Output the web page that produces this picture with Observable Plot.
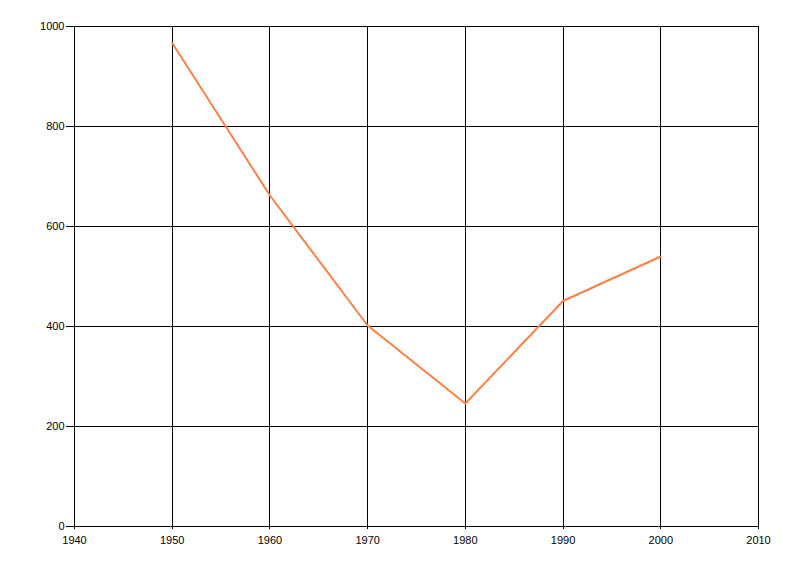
<!DOCTYPE html>
<html>
<head>
<meta charset="utf-8">
<script src="https://cdn.jsdelivr.net/npm/d3@7"></script>
<script src="https://cdn.jsdelivr.net/npm/@observablehq/plot@0.6"></script>
<style>
  html, body { margin: 0; padding: 0; background: #fff; }
  #chart { width: 800px; height: 576px; }
</style>
</head>
<body>
<div id="chart"></div>
<script>
const years = [1950, 1960, 1970, 1980, 1990, 2000];
const values = [967, 662, 402, 246, 451, 540];
const xTicks = [1940, 1950, 1960, 1970, 1980, 1990, 2000, 2010];
const yTicks = [0, 200, 400, 600, 800, 1000];

const data = years.map((y, i) => ({year: y, value: values[i]}));

const chart = Plot.plot({
  width: 800,
  height: 576,
  marginLeft: 74,
  marginRight: 42,
  marginTop: 26,
  marginBottom: 50,
  style: {fontFamily: "'Liberation Sans', Arial, sans-serif", fontSize: "11px", color: "#000", background: "#fff"},
  x: {domain: [1940, 2010], ticks: xTicks, tickFormat: "d", label: null},
  y: {domain: [0, 1000], ticks: yTicks, tickFormat: "d", label: null},
  marks: [
    Plot.ruleX(xTicks, {stroke: "#000", strokeWidth: 1, strokeOpacity: 1, shapeRendering: "crispEdges"}),
    Plot.ruleY(yTicks, {stroke: "#000", strokeWidth: 1, strokeOpacity: 1, shapeRendering: "crispEdges"}),
    Plot.axisX({ticks: xTicks, tickFormat: "d", tickSize: 3, tickPadding: 7, label: null, stroke: "#000", strokeOpacity: 1, shapeRendering: "crispEdges"}),
    Plot.axisY({ticks: yTicks, tickFormat: "d", tickSize: 8, tickPadding: 2, label: null, stroke: "#000", strokeOpacity: 1, shapeRendering: "crispEdges"}),
    Plot.line(data, {x: "year", y: "value", stroke: "#ff7f3f", strokeWidth: 2})
  ]
});
document.getElementById("chart").appendChild(chart);
</script>
</body>
</html>
